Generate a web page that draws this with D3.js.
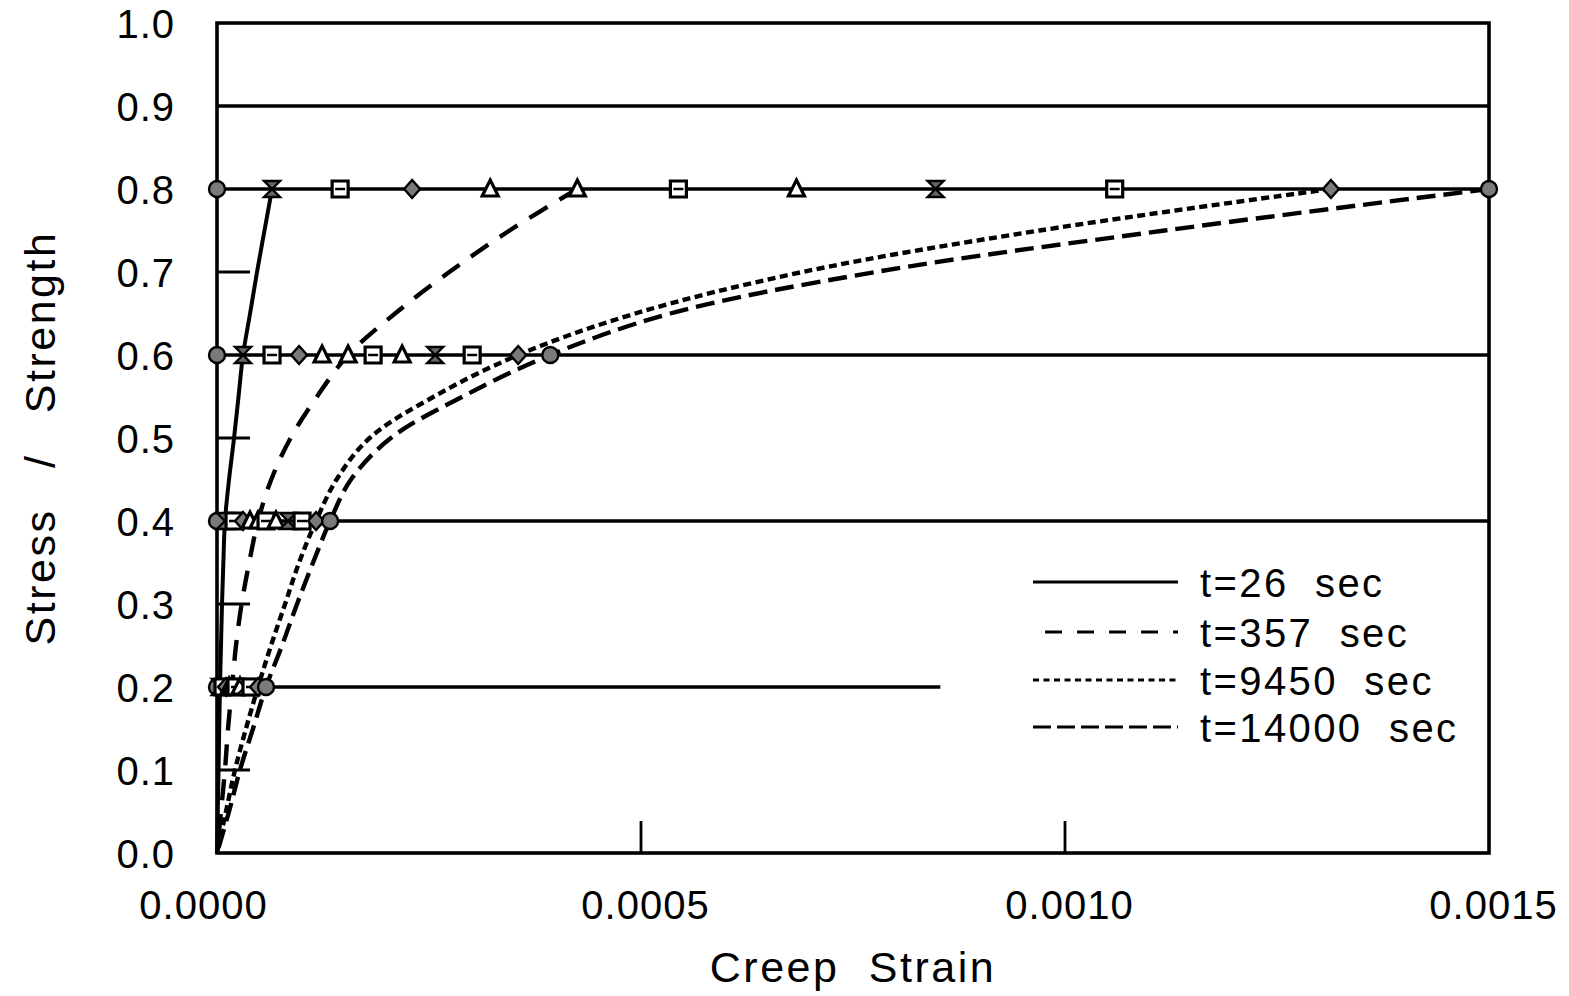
<!DOCTYPE html>
<html>
<head>
<meta charset="utf-8">
<script src="https://cdn.jsdelivr.net/npm/d3@7"></script>
<style>
  html, body { margin: 0; padding: 0; background: #fff; }
  svg { display: block; }
  text { font-family: "Liberation Sans", Arial, Helvetica, sans-serif; fill: #000; }
</style>
</head>
<body>
<svg id="chart" width="1569" height="996"></svg>
<script>
// ---- data -------------------------------------------------------------
// Stress ratio grid used by the creep curves
const stressGrid = [0, 0.05, 0.1, 0.15, 0.2, 0.25, 0.3, 0.35, 0.4, 0.45, 0.5, 0.55, 0.6, 0.65, 0.7, 0.75, 0.8];

// Creep strain of each curve at the stresses in stressGrid
const strain26 = [0, 0.0000009, 0.0000018, 0.0000026, 0.0000035, 0.0000047, 0.0000059, 0.0000075, 0.0000094, 0.0000142, 0.0000201, 0.0000254, 0.0000307, 0.0000390, 0.0000472, 0.0000560, 0.0000649];
const strain357 = [0, 0.0000047, 0.0000094, 0.0000130, 0.0000177, 0.0000224, 0.0000290, 0.0000380, 0.0000484, 0.0000640, 0.0000868, 0.0001180, 0.0001546, 0.0002100, 0.0002740, 0.0003450, 0.0004249];
const strain9450 = [0, 0.0000106, 0.0000212, 0.0000342, 0.0000484, 0.0000637, 0.0000803, 0.0000968, 0.0001168, 0.0001410, 0.0001800, 0.0002560, 0.0003552, 0.0004933, 0.0006904, 0.0009701, 0.0013136];
const strain14000 = [0, 0.0000142, 0.0000271, 0.0000425, 0.0000578, 0.0000767, 0.0000944, 0.0001133, 0.0001334, 0.0001580, 0.0002050, 0.0002900, 0.0003930, 0.0005346, 0.0007766, 0.0011176, 0.0015000];

const curveLabels = ["t=26 sec", "t=357 sec", "t=9450 sec", "t=14000 sec"];

// Constant-stress test levels and how far each reference line runs
const levelStress = [0.9, 0.8, 0.6, 0.4, 0.2];
const levelExtent = [0.0015, 0.0015, 0.0015, 0.0015, 0.000853];

// Measured creep strain at the twelve reading times, per stress level
const markerShapes = ["circle", "hourglass", "square", "diamond", "triangle", "triangle", "square", "triangle", "hourglass", "square", "diamond", "circle"];
const marks08 = [0, 0.0000649, 0.0001452, 0.0002301, 0.0003222, 0.0004249, 0.0005441, 0.0006833, 0.0008474, 0.0010586, 0.0013136, 0.0015];
const marks06 = [0, 0.0000307, 0.0000649, 0.0000968, 0.0001239, 0.0001546, 0.0001841, 0.0002183, 0.0002573, 0.0003009, 0.0003552, 0.0003930];
const marks04 = [0, 0.0000094, 0.0000201, 0.0000307, 0.0000389, 0.0000484, 0.0000578, 0.0000696, 0.0000838, 0.0001003, 0.0001168, 0.0001334];
const marks02 = [0, 0.0000035, 0.0000071, 0.0000106, 0.0000142, 0.0000177, 0.0000224, 0.0000271, 0.0000330, 0.0000401, 0.0000484, 0.0000578];

// Axis ticks
const yTickValues = [0, 0.1, 0.2, 0.3, 0.4, 0.5, 0.6, 0.7, 0.8, 0.9, 1.0];
const yMinorTicks = [0.1, 0.3, 0.5, 0.7];
const xTickValues = [0, 0.0005, 0.0010, 0.0015];
const xInnerTicks = [0.0005, 0.0010];

// ---- layout -----------------------------------------------------------
const svg = d3.select("#chart");
const plot = { left: 217, right: 1489, top: 23, bottom: 853 };

const x = d3.scaleLinear().domain([0, 0.0015]).range([plot.left, plot.right]);
const y = d3.scaleLinear().domain([0, 1.0]).range([plot.bottom, plot.top]);

const labelFont = 40;

// Reference lines at each test stress level
svg.append("g").selectAll("line")
  .data(levelStress.map((s, i) => ({ s, e: levelExtent[i] })))
  .join("line")
  .attr("x1", x(0)).attr("x2", d => x(d.e))
  .attr("y1", d => y(d.s)).attr("y2", d => y(d.s))
  .attr("stroke", "#000").attr("stroke-width", 3.6);

// Creep curves
const curveStyles = [
  { data: strain26, dash: null, width: 4 },
  { data: strain357, dash: "21,14", width: 4.4 },
  { data: strain9450, dash: "8,4.5", width: 4.4 },
  { data: strain14000, dash: "19,8", width: 4.4 }
];

const line = d3.line()
  .x(d => x(d[0]))
  .y(d => y(d[1]))
  .curve(d3.curveCatmullRom.alpha(0.5));

svg.append("g").selectAll("path")
  .data(curveStyles)
  .join("path")
  .attr("d", c => line(stressGrid.map((s, i) => [c.data[i], s]).reverse()))
  .attr("fill", "none")
  .attr("stroke", "#000")
  .attr("stroke-width", c => c.width)
  .attr("stroke-dasharray", c => c.dash)
  .attr("stroke-linecap", "butt");

// Frame
svg.append("rect")
  .attr("x", plot.left).attr("y", plot.top)
  .attr("width", plot.right - plot.left).attr("height", plot.bottom - plot.top)
  .attr("fill", "none").attr("stroke", "#000").attr("stroke-width", 3.6);

// Inner minor ticks
svg.append("g").selectAll("line")
  .data(yMinorTicks)
  .join("line")
  .attr("x1", plot.left).attr("x2", plot.left + 33)
  .attr("y1", d => y(d)).attr("y2", d => y(d))
  .attr("stroke", "#000").attr("stroke-width", 2.8);

svg.append("g").selectAll("line")
  .data(xInnerTicks)
  .join("line")
  .attr("x1", d => x(d)).attr("x2", d => x(d))
  .attr("y1", plot.bottom).attr("y2", plot.bottom - 32)
  .attr("stroke", "#000").attr("stroke-width", 2.8);

// Markers at the measured points
const markerPts = [];
[[0.8, marks08], [0.6, marks06], [0.4, marks04], [0.2, marks02]].forEach(([s, arr]) => {
  arr.forEach((v, i) => markerPts.push({ s, v, shape: markerShapes[i] }));
});

function markerPath(shape) {
  const r = 8;
  switch (shape) {
    case "circle":
      return d3.symbol(d3.symbolCircle, Math.PI * r * r)();
    case "square":
      return `M${-r},${-r}H${r}V${r}H${-r}Z`;
    case "diamond":
      return `M0,${-r - 1}L${r},0L0,${r + 1}L${-r},0Z`;
    case "triangle":
      return `M0,${-r - 1}L${r},${r - 1}L${-r},${r - 1}Z`;
    case "hourglass":
      return `M${-r},${-r}H${r}L${-r},${r}H${r}Z`;
  }
}
const markerFill = { circle: "#7a7a7a", square: "#fff", diamond: "#7a7a7a", triangle: "#fff", hourglass: "#666" };

const mg = svg.append("g").selectAll("g")
  .data(markerPts)
  .join("g")
  .attr("transform", d => `translate(${x(d.v)},${y(d.s)})`);

mg.append("path")
  .attr("d", d => markerPath(d.shape))
  .attr("fill", d => markerFill[d.shape])
  .attr("stroke", "#000")
  .attr("stroke-width", d => (d.shape === "square" || d.shape === "triangle") ? 3.2 : 2.4);

mg.filter(d => d.shape === "square").append("line")
  .attr("x1", -5).attr("x2", 5).attr("y1", 0).attr("y2", 0)
  .attr("stroke", "#000").attr("stroke-width", 2.5);

// Axes (labels only; ticks are drawn inside the frame)
const yAxis = d3.axisLeft(y).tickValues(yTickValues).tickSize(0).tickPadding(0)
  .tickFormat(d3.format(".1f"));
const gy = svg.append("g").attr("transform", `translate(${plot.left - 42},0)`).call(yAxis);
gy.select(".domain").remove();
gy.selectAll("text")
  .attr("font-size", labelFont).attr("letter-spacing", 1)
  .attr("font-family", "'Liberation Sans', Arial, sans-serif")
  .attr("dy", "0.36em");

const xAxis = d3.axisBottom(x).tickValues(xTickValues).tickSize(0).tickPadding(0)
  .tickFormat(d3.format(".4f"));
const gx = svg.append("g").attr("transform", `translate(0,${plot.bottom + 66})`).call(xAxis);
gx.select(".domain").remove();
gx.selectAll("text")
  .attr("font-size", labelFont).attr("letter-spacing", 1)
  .attr("font-family", "'Liberation Sans', Arial, sans-serif")
  .attr("dy", 0)
  .attr("dx", d => d === 0 ? -14 : 4);

// Axis titles
svg.append("text")
  .attr("x", (plot.left + plot.right) / 2).attr("y", 982)
  .attr("text-anchor", "middle")
  .attr("font-size", 43).attr("letter-spacing", 2.5).attr("word-spacing", 15)
  .text("Creep Strain");

svg.append("text")
  .attr("transform", `translate(55,${(plot.top + plot.bottom) / 2}) rotate(-90)`)
  .attr("text-anchor", "middle")
  .attr("font-size", 43).attr("letter-spacing", 2.5).attr("word-spacing", 26)
  .text("Stress / Strength");

// Legend
const legendRows = [582, 632, 680, 727];
const lg = svg.append("g").selectAll("g")
  .data(curveStyles)
  .join("g")
  .attr("transform", (d, i) => `translate(0,${legendRows[i]})`);

lg.append("line")
  .attr("x1", (d, i) => i === 1 ? 1045 : 1033).attr("x2", 1178)
  .attr("y1", 0).attr("y2", 0)
  .attr("stroke", "#000").attr("stroke-width", 3.2)
  .attr("stroke-dasharray", (d, i) => [null, "17,15", "6,4.5", "18,6"][i]);

lg.append("text")
  .attr("x", 1200).attr("y", 15)
  .attr("font-size", 40).attr("letter-spacing", 2.4).attr("word-spacing", 13)
  .text((d, i) => curveLabels[i]);
</script>
</body>
</html>
